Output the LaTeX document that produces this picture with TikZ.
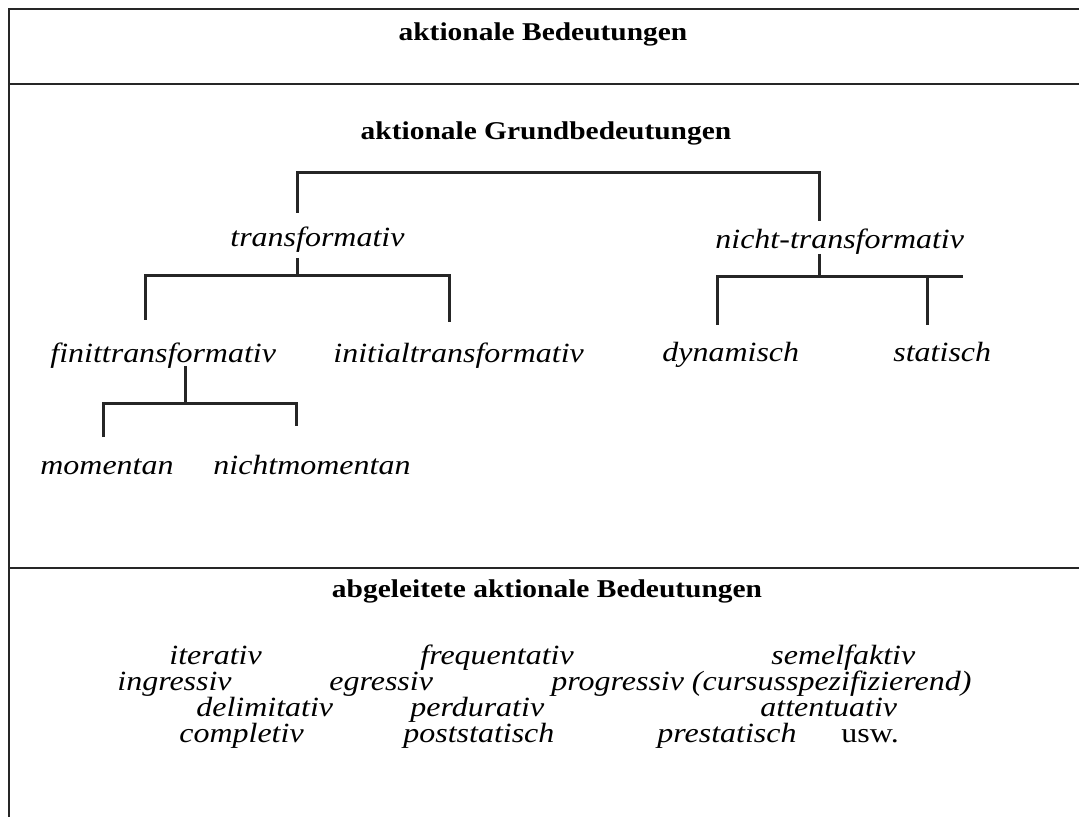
\documentclass[tikz,border=0pt]{standalone}
\usepackage{fontspec}
\setmainfont{Liberation Serif}
% slightly widened serif face, used for every label
\newfontfamily\widefont{Liberation Serif}[FakeStretch=1.15]
\begin{document}
\begin{tikzpicture}[x=0.5pt,y=-0.5pt,
  rule/.style={line width=1.2pt, draw=black!85},
  branch/.style={line width=1.5pt, draw=black!85},
  head/.style={inner sep=0pt, anchor=base, font=\widefont\fontsize{12.8}{15}\selectfont\bfseries},
  term/.style={inner sep=0pt, anchor=base west, font=\widefont\fontsize{13.9}{16}\selectfont\itshape},
  plain/.style={inner sep=0pt, anchor=base west, font=\widefont\fontsize{13.9}{16}\selectfont}]
\useasboundingbox (0,0) rectangle (1079,817);
\fill[white] (0,0) rectangle (1079,817);

% frame: open on the right
\coordinate (tl) at (9,9);     \coordinate (tr) at (1079,9);
\coordinate (m1l) at (9,84);   \coordinate (m1r) at (1079,84);
\coordinate (m2l) at (9,568);  \coordinate (m2r) at (1079,568);
\coordinate (bl) at (9,817);
\draw[rule] (tr) -- (tl) -- (bl);
\draw[rule] (m1l) -- (m1r);
\draw[rule] (m2l) -- (m2r);

% headings
\node[head] (h1) at (543,41) {aktionale Bedeutungen};
\node[head] (h2) at (546,140) {aktionale Grundbedeutungen};
\node[head] (h3) at (547,597) {abgeleitete aktionale Bedeutungen};

% basic meanings
\node[term] (trans)  at (230,247) {transformativ};
\node[term] (ntrans) at (715,249) {nicht-transformativ};
\node[term] (finit)  at (50,363)  {finittransformativ};
\node[term] (init)   at (333,363) {initialtransformativ};
\node[term] (dyn)    at (662,362) {dynamisch};
\node[term] (stat)   at (893,362) {statisch};
\node[term] (mom)    at (40,474)  {momentan};
\node[term] (nmom)   at (213,474) {nichtmomentan};

% first split
\coordinate (a1) at (297,173); \coordinate (a2) at (819,173);
\coordinate (a1e) at (297,213); \coordinate (a2e) at (819,221);
\draw[branch] (a1e) -- (a1) -- (a2) -- (a2e);

% transformativ split
\coordinate (b0) at (297,258); \coordinate (b0e) at (297,276);
\coordinate (b1) at (145,276); \coordinate (b2) at (449,276);
\coordinate (b1e) at (145,320); \coordinate (b2e) at (449,322);
\draw[branch] (b0) -- (b0e);
\draw[branch] (b1e) -- (b1) -- (b2) -- (b2e);

% nicht-transformativ split
\coordinate (c0) at (819,254); \coordinate (c0e) at (819,277);
\coordinate (c1) at (717,277); \coordinate (c2) at (963,277);
\coordinate (c1e) at (717,325); \coordinate (c3) at (927,277);
\coordinate (c3e) at (927,325);
\draw[branch] (c0) -- (c0e);
\draw[branch] (c1e) -- (c1) -- (c2);
\draw[branch] (c3) -- (c3e);

% finittransformativ split
\coordinate (d0) at (185,366); \coordinate (d0e) at (185,403);
\coordinate (d1) at (103,403); \coordinate (d2) at (296,403);
\coordinate (d1e) at (103,437); \coordinate (d2e) at (296,426);
\draw[branch] (d0) -- (d0e);
\draw[branch] (d1e) -- (d1) -- (d2) -- (d2e);

% derived meanings
\node[term] (r1a) at (169,664) {iterativ};
\node[term] (r1b) at (420,664) {frequentativ};
\node[term] (r1c) at (771,664) {semelfaktiv};
\node[term] (r2a) at (117,690) {ingressiv};
\node[term] (r2b) at (329,690) {egressiv};
\node[term] (r2c) at (551,690) {progressiv (cursusspezifizierend)};
\node[term] (r3a) at (196,716) {delimitativ};
\node[term] (r3b) at (410,716) {perdurativ};
\node[term] (r3c) at (760,716) {attentuativ};
\node[term] (r4a) at (179,742) {completiv};
\node[term] (r4b) at (403,742) {poststatisch};
\node[term] (r4c) at (657,742) {prestatisch};
\node[plain] (r4d) at (841,742) {usw.};
\end{tikzpicture}
\end{document}
